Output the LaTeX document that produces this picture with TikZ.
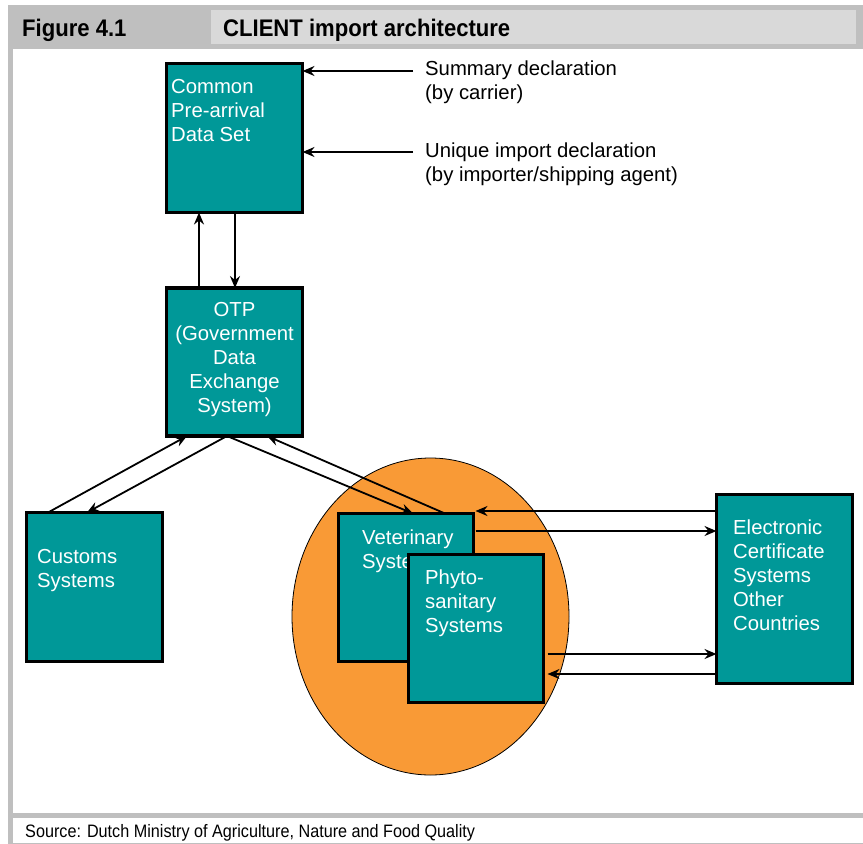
\documentclass[tikz,border=0pt]{standalone}
\usepackage{fontspec}
\setmainfont{Liberation Sans}
\newfontfamily\condfont[FakeStretch=0.92]{Liberation Sans}
\newfontfamily\srcfont[FakeStretch=0.9]{Liberation Sans}
\usetikzlibrary{arrows.meta,calc}
\definecolor{teal1}{RGB}{0,152,152}
\definecolor{orange1}{RGB}{249,154,54}
\definecolor{band}{RGB}{191,191,191}
\definecolor{bandlight}{RGB}{217,217,217}
\tikzset{
  sysbox/.style={draw=black, fill=teal1, line width=3.5pt, inner sep=0pt, outer sep=0pt},
  boxtext/.style={text=white, align=left, inner sep=0pt, anchor=north west, font=\fontsize{20.3}{24}\selectfont},
  lbltext/.style={text=black, align=left, inner sep=0pt, anchor=north west, font=\fontsize{20.3}{24}\selectfont},
  arr/.style={draw=black, line width=1.8pt, -{Stealth[length=12pt,width=10pt,inset=4pt]}},
  headtext/.style={inner sep=0pt, anchor=base west, font=\condfont\bfseries\fontsize{24}{28}\selectfont},
}
\begin{document}
\begin{tikzpicture}[x=1pt,y=-1pt]
\useasboundingbox (0,0) rectangle (863,844);
% frame
\fill[white] (0,0) rectangle (863,844);
\fill[band] (8,5) rectangle (863,49);
\fill[band] (8,49) rectangle (13,844);
\fill[band] (13,812.5) rectangle (863,817.5);
\fill[band] (13,842.5) rectangle (863,844);
\fill[bandlight] (211,10) rectangle (856,44);
\node[headtext] (fig) at (22,36) {Figure 4.1};
\node[headtext] (title) at (223,36) {CLIENT import architecture};
\node[inner sep=0pt, anchor=base west, font=\srcfont\fontsize{18}{22}\selectfont] (src) at (25,837) {Source: Dutch Ministry of Agriculture, Nature and Food Quality};
% ellipse
\fill[orange1, draw=black, line width=0.8pt] (430.5,616.5) ellipse [x radius=138.5pt, y radius=158.5pt];
% boxes
\node[sysbox, minimum width=136pt, minimum height=149pt] (cpds) at (234.5,138) {};
\node[sysbox, minimum width=136pt, minimum height=148pt] (otp) at (234.5,362) {};
\node[sysbox, minimum width=136pt, minimum height=149pt] (cust) at (94.5,587) {};
\node[sysbox, minimum width=135pt, minimum height=148pt] (vet) at (406,587.5) {};
\node[sysbox, minimum width=135pt, minimum height=148pt] (phy) at (476,628.5) {};
\node[sysbox, minimum width=136pt, minimum height=189pt] (elec) at (784.5,589) {};
% box texts
\node[boxtext] (cpdst) at (171,79.5) {Common\\Pre-arrival\\Data Set};
\node[boxtext, align=center, anchor=north] (otpt) at (234.5,302.5) {OTP\\(Government\\Data\\Exchange\\System)};
\node[boxtext] (custt) at (37,549.5) {Customs\\Systems};
\node[boxtext] (vett) at (362,529.5) {Veterinary\\Systems};
\fill[teal1] (phy.north west) rectangle (phy.south east);
\draw[black, line width=3.5pt] (phy.north west) rectangle (phy.south east);
\node[boxtext] (phyt) at (425,569.5) {Phyto-\\sanitary\\Systems};
\node[boxtext] (elect) at (733,519.5) {Electronic\\Certificate\\Systems\\Other\\Countries};
% labels
\node[lbltext] (sum) at (425,60.5) {Summary declaration\\(by carrier)};
\node[lbltext] (uni) at (425,142.5) {Unique import declaration\\(by importer/shipping agent)};
% arrows to CPDS
\coordinate (s1) at (413,71);
\coordinate (s2) at (413,152);
\draw[arr] (s1) -- (s1 -| cpds.east);
\draw[arr] (s2) -- (s2 -| cpds.east);
% CPDS <-> OTP
\draw[arr] ([xshift=-35.5pt]otp.north) -- ([xshift=-35.5pt]cpds.south);
\draw[arr] ([xshift=0.5pt]cpds.south) -- ([xshift=0.5pt]otp.north);
% OTP <-> customs
\draw[arr] ([xshift=21.5pt]cust.north west) -- ([xshift=20.5pt]otp.south west);
\draw[arr] ([xshift=-7.5pt]otp.south) -- ([xshift=60.5pt]cust.north west);
% OTP <-> vet
\draw[arr] ([xshift=-7.5pt]otp.south) -- ([xshift=74.5pt]vet.north west);
\draw[arr] ([xshift=106.5pt]vet.north west) -- ([xshift=32.5pt]otp.south);
% vet/phyto <-> elec
\coordinate (e1) at ([yshift=-16.5pt]elec.north west);
\coordinate (e2) at ([yshift=-36.5pt]elec.north west);
\coordinate (e3) at ([yshift=-159.5pt]elec.north west);
\coordinate (e4) at ([yshift=-179.5pt]elec.north west);
\draw[arr] (e1) -- ([xshift=2pt]e1 -| vet.east);
\draw[arr] ([xshift=2pt]e2 -| vet.east) -- (e2);
\draw[arr] ([xshift=4pt]e3 -| phy.east) -- (e3);
\draw[arr] (e4) -- ([xshift=4pt]e4 -| phy.east);
\end{tikzpicture}
\end{document}
